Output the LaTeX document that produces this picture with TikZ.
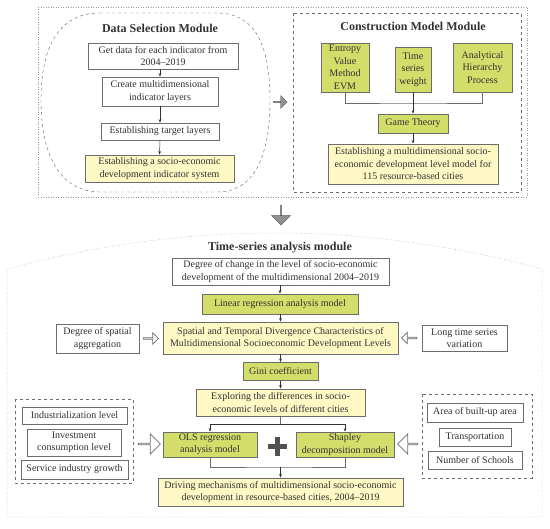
\documentclass[tikz,border=0pt]{standalone}
\usepackage{fontspec}
\setmainfont{Liberation Serif}
\usetikzlibrary{arrows.meta}
\usetikzlibrary{shapes.arrows}

\definecolor{boxgreen}{RGB}{210,221,106}
\definecolor{boxyellow}{RGB}{253,248,196}
\definecolor{framegray}{RGB}{108,108,108}
\definecolor{txtgray}{RGB}{50,50,50}

\begin{document}
\begin{tikzpicture}[x=1pt,y=-1pt,
                    box/.style={draw=framegray,line width=0.8pt,fill=white,align=center,
                        inner sep=0pt,text=txtgray,font=\fontsize{10}{12.5}\selectfont},
                    greenbox/.style={box,fill=boxgreen},
                    yellowbox/.style={box,fill=boxyellow},
                    title/.style={text=txtgray,font=\fontsize{12}{14}\selectfont\bfseries},
                    arr/.style={-{Stealth[length=3.5pt,width=2.8pt]},line width=0.5pt,draw=txtgray},
                    link/.style={line width=0.5pt,draw=framegray},
                    outerframe/.style={dotted,line width=0.5pt,draw=framegray!70},
                    bigarrow/.style={single arrow,draw=framegray!80!black,fill=framegray!75,
                        inner sep=0pt,single arrow head indent=0pt},
                    hollowarrow/.style={single arrow,draw=framegray,fill=white,line width=0.7pt,
                        inner sep=0pt,single arrow head indent=0pt}]
                    \useasboundingbox (0,0) rectangle (550,529);

                    % upper part
                    \draw[outerframe] (38,7) rectangle (527,197);
                    \draw[dashed,framegray!90!black] (100,13) -- (217,13)
                        .. controls (255,13) and (270,45) .. (270,100)
                        .. controls (270,155) and (255,192) .. (217,192) -- (100,192)
                        .. controls (60,192) and (41,155) .. (41,100)
                        .. controls (41,45) and (60,13) .. (100,13);
                    \draw[dashed,framegray] (293,13) rectangle (521,192);

                    \node[title] (dsm) at (160,28) {Data Selection Module};
                    \node[box,minimum width=150pt,minimum height=26pt] (getdata) at (163,56)
                        {Get data for each indicator from\\2004–2019};
                    \node[box,minimum width=116pt,minimum height=29pt] (layers) at (160,91.5)
                        {Create multidimensional\\indicator layers};
                    \node[box,minimum width=118pt,minimum height=17pt] (target) at (160,131.5)
                        {Establishing target layers};
                    \node[yellowbox,minimum width=149pt,minimum height=27pt] (indsys) at (159.5,168.5)
                        {Establishing a socio-economic\\development indicator system};

                    \draw[arr] (getdata.south -| layers.north) -- (layers.north);
                    \draw[arr] (layers.south) -- (target.north);
                    \draw[arr] (target.south) -- (indsys.north);

                    \node[title] (cmm) at (413,26) {Construction Model Module};
                    \node[greenbox,minimum width=48pt,minimum height=49pt] (evm) at (345,67.5)
                        {Entropy\\Value\\Method\\EVM};
                    \node[greenbox,minimum width=36pt,minimum height=45pt] (tsw) at (413,69.5)
                        {Time\\series\\weight};
                    \node[greenbox,minimum width=59pt,minimum height=49pt] (ahp) at (482.5,67.5)
                        {Analytical\\Hierarchy\\Process};
                    \node[greenbox,minimum width=70pt,minimum height=19pt] (game) at (413,123.5)
                        {Game Theory};
                    \node[yellowbox,minimum width=170pt,minimum height=40pt] (levmodel) at (413,164)
                        {Establishing a multidimensional socio-\\economic development level model for\\115 resource-based cities};

                    \coordinate (join) at (413,103);
                    \draw[link] (evm.south) |- (join) -| (ahp.south);
                    \draw[arr] (tsw.south) -- (game.north);
                    \draw[arr] (game.south) -- (levmodel.north);

                    \node[bigarrow,minimum height=14pt,minimum width=13pt,
                        single arrow head extend=3pt] (toright) at (280,102) {};
                    \node[bigarrow,minimum height=20pt,minimum width=19pt,
                        single arrow head extend=4.5pt,shape border rotate=270] (todown) at (281,215) {};

                    % lower part
                    \draw[outerframe] (7,269) .. controls (186,221) and (364,221) .. (542,269)
                        -- (542,517) -- (7,517) -- cycle;

                    \node[title] (tsam) at (280,248) {Time-series analysis module};
                    \node[box,minimum width=217pt,minimum height=27pt] (change) at (280.5,271.5)
                        {Degree of change in the level of socio-economic\\development of the multidimensional 2004–2019};
                    \node[greenbox,minimum width=156pt,minimum height=20pt] (linreg) at (280,304)
                        {Linear regression analysis model};
                    \node[yellowbox,minimum width=235pt,minimum height=32pt] (diverg) at (280.5,338)
                        {Spatial and Temporal Divergence Characteristics of\\Multidimensional Socioeconomic Development Levels};
                    \node[box,minimum width=83pt,minimum height=29pt] (spagg) at (97.5,338.5)
                        {Degree of spatial\\aggregation};
                    \node[box,minimum width=85pt,minimum height=26pt] (longts) at (464.5,338)
                        {Long time series\\variation};
                    \node[greenbox,minimum width=75pt,minimum height=18pt] (gini) at (280.5,371.5)
                        {Gini coefficient};
                    \node[yellowbox,minimum width=169pt,minimum height=27pt] (explore) at (280.5,402.5)
                        {Exploring the differences in socio-\\economic levels of different cities};
                    \node[greenbox,minimum width=94pt,minimum height=25pt] (ols) at (210,444.5)
                        {OLS regression\\analysis model};
                    \node[greenbox,minimum width=98pt,minimum height=25pt] (shapley) at (345,444.5)
                        {Shapley\\decomposition model};
                    \node[yellowbox,minimum width=245pt,minimum height=28pt] (driving) at (280.5,492)
                        {Driving mechanisms of multidimensional socio-economic\\development in resource-based cities, 2004–2019};

                    \draw[arr] (change.south -| linreg.north) -- (linreg.north);
                    \draw[arr] (linreg.south -| diverg.north) -- (diverg.north);
                    \draw[arr] (diverg.south) -- (gini.north);
                    \draw[arr] (gini.south) -- (explore.north);

                    \coordinate (split) at (280.5,424);
                    \draw[link] (explore.south) -- (split);
                    \draw[arr] (split) -| (ols.north);
                    \draw[arr] (split) -| (shapley.north);
                    \coordinate (merge) at (280.5,467);
                    \draw[link] (ols.south) |- (merge) -| (shapley.south);
                    \draw[arr] (merge) -- (driving.north);

                    \fill[txtgray!85] (268,444.5) rectangle (287,449.5);
                    \fill[txtgray!85] (275,437.5) rectangle (280,456.5);

                    \node[hollowarrow,minimum height=15pt,minimum width=11pt,
                        single arrow head extend=2.5pt] (spaggarrow) at (150.5,338.5) {};
                    \node[hollowarrow,minimum height=15pt,minimum width=11pt,
                        single arrow head extend=2.5pt,shape border rotate=180] (longtsarrow) at (409.5,338) {};

                    % factor groups
                    \draw[dashed,framegray] (15,399) rectangle (133,483);
                    \node[box,minimum width=105pt,minimum height=17pt] (indus) at (74.5,415.5)
                        {Industrialization level};
                    \node[box,minimum width=94pt,minimum height=27pt] (invest) at (74,442.5)
                        {Investment\\consumption level};
                    \node[box,minimum width=107pt,minimum height=19pt] (service) at (74.5,469.5)
                        {Service industry growth};

                    \draw[dashed,framegray] (422,394) rectangle (532,478);
                    \node[box,minimum width=96pt,minimum height=19pt] (builtup) at (475,412.5)
                        {Area of built-up area};
                    \node[box,minimum width=72pt,minimum height=18pt] (transport) at (475,437)
                        {Transportation};
                    \node[box,minimum width=94pt,minimum height=18pt] (schools) at (475,460)
                        {Number of Schools};

                    \node[hollowarrow,minimum height=22pt,minimum width=20pt,
                        single arrow head extend=5pt] (leftgrouparrow) at (149,444) {};
                    \node[hollowarrow,minimum height=20pt,minimum width=20pt,
                        single arrow head extend=5pt,shape border rotate=180] (rightgrouparrow) at (408,444) {};
                \end{tikzpicture}
\end{document}
